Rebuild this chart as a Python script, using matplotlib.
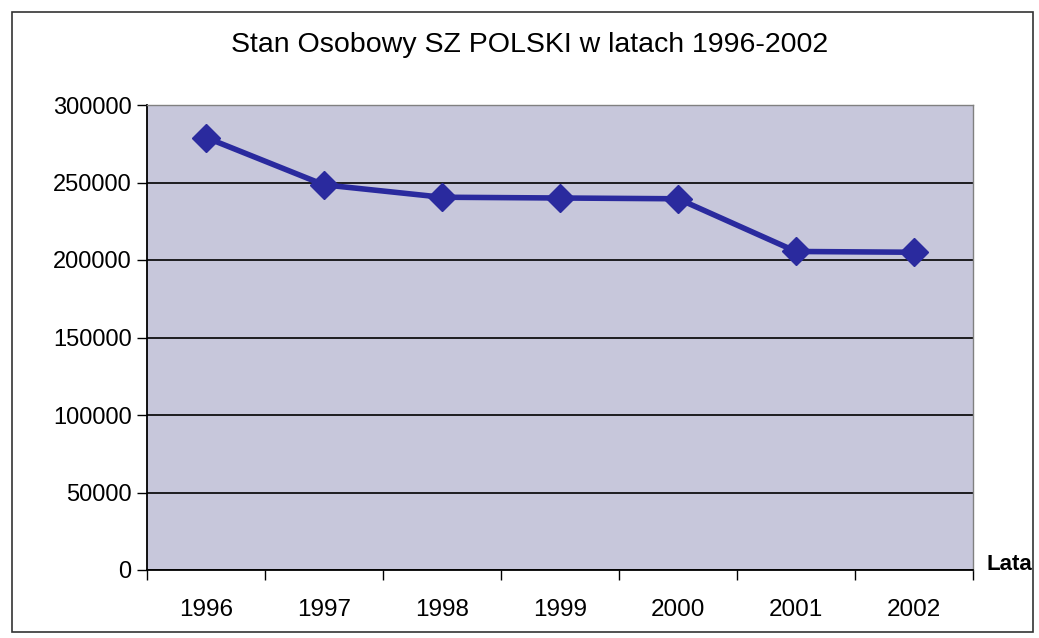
import matplotlib.pyplot as plt
from matplotlib.patches import Rectangle
from matplotlib.ticker import FixedLocator

years = ['1996', '1997', '1998', '1999', '2000', '2001', '2002']
stan = [279000, 248500, 240500, 240000, 239500, 205500, 205000]
y_ticks = [0, 50000, 100000, 150000, 200000, 250000, 300000]

plt.rcParams['font.family'] = ['Liberation Sans', 'DejaVu Sans']

fig = plt.figure(figsize=(10.39, 6.38), dpi=100)
fig.patch.set_facecolor('white')

# chart area border
fig.patches.append(Rectangle((12 / 1039, 6 / 638), 1021 / 1039, 620 / 638,
                             transform=fig.transFigure, fill=False,
                             edgecolor='#333333', linewidth=1.2))

ax = fig.add_axes([147 / 1039, 68 / 638, 826 / 1039, 465 / 638])
ax.set_facecolor('#c7c7db')

x = range(len(years))
ax.plot(x, stan, color='#2a2a9e', linewidth=4, marker='D', markersize=14,
        zorder=3)

ax.set_xlim(-0.5, len(years) - 0.5)
ax.set_ylim(0, 300000)
ax.set_yticks(y_ticks)
ax.set_yticklabels([str(v) for v in y_ticks])
ax.set_xticks(list(x))
ax.set_xticklabels(years)
ax.xaxis.set_minor_locator(FixedLocator([i - 0.5 for i in range(len(years) + 1)]))

ax.grid(axis='y', color='black', linewidth=1.2)
ax.set_axisbelow(True)

ax.tick_params(axis='x', which='major', length=0, pad=21, labelsize=17.5)
ax.tick_params(axis='x', which='minor', length=7, width=1, direction='out')
ax.tick_params(axis='y', length=7, width=1, direction='out', pad=4, labelsize=17)

for side in ['left', 'bottom']:
    ax.spines[side].set_color('black')
    ax.spines[side].set_linewidth(1.3)
for side in ['top', 'right']:
    ax.spines[side].set_color('#808080')
    ax.spines[side].set_linewidth(1.0)

fig.text(530 / 1039, 1 - 45 / 638, 'Stan Osobowy SZ POLSKI w latach 1996-2002',
         ha='center', va='center', fontsize=20.5)
fig.text(987 / 1039, 1 - 565 / 638, 'Lata', ha='left', va='center',
         fontsize=16, fontweight='bold')

fig.savefig('out.png', dpi=100)
